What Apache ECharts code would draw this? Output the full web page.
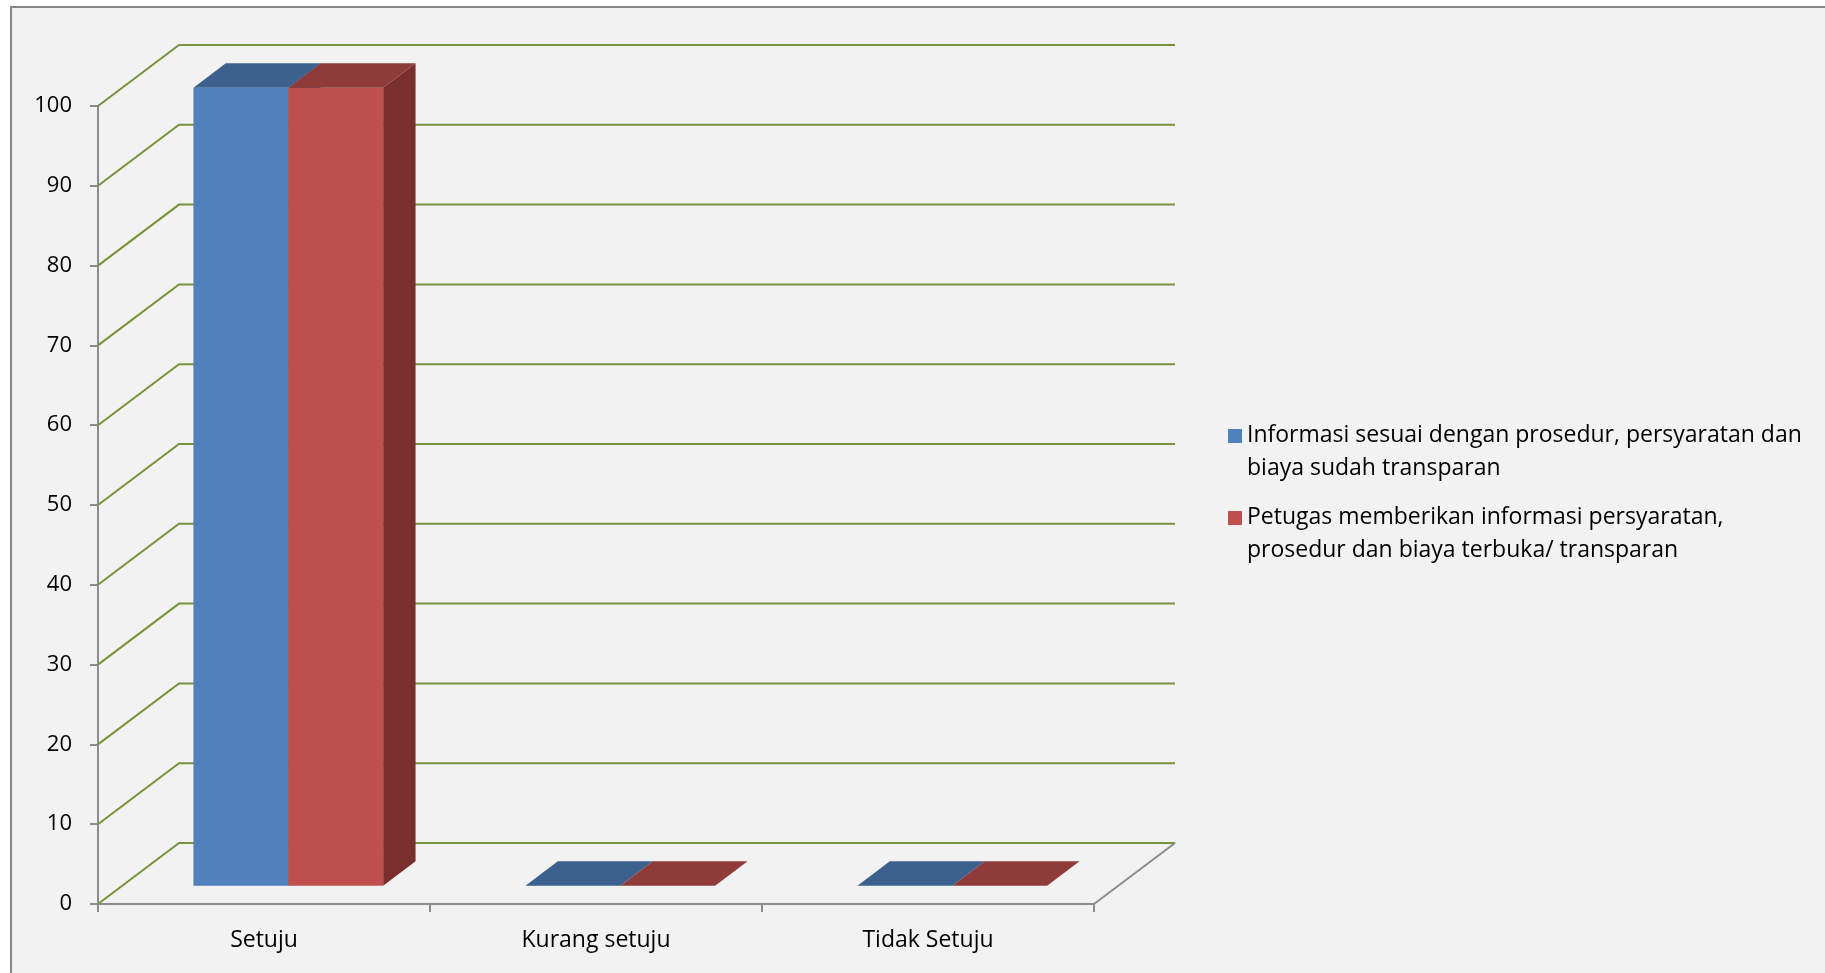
<!DOCTYPE html>
<html>
<head>
<meta charset="utf-8">
<title>Keterbukaan Informasi</title>
<script src="https://cdn.jsdelivr.net/npm/echarts@6/dist/echarts.min.js"></script>
<style>
  html, body { margin: 0; padding: 0; background: #ffffff; }
  #chart { width: 1825px; height: 973px; }
</style>
</head>
<body>
<div id="chart"></div>
<script>
// Response categories and the share (%) of respondents per statement
const categories = ['Setuju', 'Kurang setuju', 'Tidak Setuju'];
const seriesNames = [
  'Informasi sesuai dengan prosedur, persyaratan dan biaya sudah transparan',
  'Petugas memberikan informasi persyaratan, prosedur dan biaya terbuka/ transparan'
];
const legendLines = [
  ['Informasi sesuai dengan prosedur, persyaratan dan', 'biaya sudah transparan'],
  ['Petugas memberikan informasi persyaratan,', 'prosedur dan biaya terbuka/ transparan']
];
const valuesInformasi = [100, 0, 0];
const valuesPetugas = [100, 0, 0];
const yTicks = [0, 10, 20, 30, 40, 50, 60, 70, 80, 90, 100];

// Oblique projection used for the pseudo-3D walls and columns (pixels)
const DEPTH = [81, -61];
const BAR_FRONT = 0.30;   // fraction of wall depth where column faces start
const BAR_BACK = 0.70;    // fraction of wall depth where column backs end
const GAP_RATIO = 1.5;    // gap between clusters, as a multiple of one column

const palette = [
  { front: '#4F81BD', top: '#3D618F', side: '#345379' },
  { front: '#C0504D', top: '#8F3B39', side: '#7A2F2E' }
];
const WALL_GREEN = '#77933C';
const AXIS_GRAY = '#8C8C8C';

function wallItem(params, api) {
  const cs = params.coordSys;
  const v = api.value(1);
  const y = api.coord([0, v])[1];
  const xl = cs.x, xr = cs.x + cs.width;
  const children = [{
    type: 'polyline',
    shape: { points: [[xl, y], [xl + DEPTH[0], y + DEPTH[1]], [xr + DEPTH[0], y + DEPTH[1]]] },
    style: { stroke: WALL_GREEN, lineWidth: 2, fill: null }
  }];
  if (v === 0) {
    children.push({
      type: 'line',
      shape: { x1: xr, y1: y, x2: xr + DEPTH[0], y2: y + DEPTH[1] },
      style: { stroke: AXIS_GRAY, lineWidth: 2 }
    });
  }
  return { type: 'group', children: children };
}

function makeColumnRenderer(seriesIndex, count) {
  return function (params, api) {
    const idx = api.value(0);
    const v = api.value(1);
    const band = api.size([1, 0])[0];
    const w = band / (count + GAP_RATIO);
    const base = api.coord([idx, 0]);
    const top = api.coord([idx, v]);
    const fx = DEPTH[0] * BAR_FRONT, fy = DEPTH[1] * BAR_FRONT;
    const bx = DEPTH[0] * BAR_BACK, by = DEPTH[1] * BAR_BACK;
    const x0 = base[0] - (count * w) / 2 + seriesIndex * w;
    const x1 = x0 + w;
    const yb = base[1], yt = top[1];
    const c = palette[seriesIndex];
    const children = [];
    if (yb - yt > 0.5) {
      children.push({
        type: 'polygon',
        shape: { points: [[x1 + fx, yt + fy], [x1 + bx, yt + by], [x1 + bx, yb + by], [x1 + fx, yb + fy]] },
        style: { fill: c.side }
      });
      children.push({
        type: 'rect',
        shape: { x: x0 + fx, y: yt + fy, width: w, height: yb - yt },
        style: { fill: c.front }
      });
    }
    children.push({
      type: 'polygon',
      shape: { points: [[x0 + fx, yt + fy], [x1 + fx, yt + fy], [x1 + bx, yt + by], [x0 + bx, yt + by]] },
      style: { fill: c.top }
    });
    return { type: 'group', children: children };
  };
}

const valueSets = [valuesInformasi, valuesPetugas];
const columnSeries = valueSets.map(function (vals, si) {
  return {
    name: seriesNames[si],
    type: 'custom',
    renderItem: makeColumnRenderer(si, valueSets.length),
    itemStyle: { color: palette[si].front },
    encode: { x: 0, y: 1 },
    data: vals.map(function (v, i) { return [i, v]; }),
    z: 3,
    silent: true
  };
});

const chart = echarts.init(document.getElementById('chart'), null, { renderer: 'canvas' });
const FONT = '"Open Sans", "Noto Sans", sans-serif';

chart.setOption({
  backgroundColor: 'transparent',
  animation: false,
  graphic: [{
    type: 'rect',
    shape: { x: 11, y: 7, width: 1830, height: 980 },
    style: { fill: '#F2F2F2', stroke: '#878787', lineWidth: 2 },
    z: -100,
    silent: true
  }],
  grid: { left: 98, right: 731, top: 106, bottom: 69, containLabel: false },
  xAxis: {
    type: 'category',
    data: categories,
    boundaryGap: true,
    axisLine: { show: true, lineStyle: { color: AXIS_GRAY, width: 2 } },
    axisTick: { show: true, interval: 0, length: 8, lineStyle: { color: AXIS_GRAY, width: 2 } },
    axisLabel: { interval: 0, margin: 25, color: '#000000', fontSize: 23, fontFamily: FONT },
    splitLine: { show: false }
  },
  yAxis: {
    type: 'value',
    min: 0,
    max: 100,
    interval: 10,
    axisLine: { show: true, lineStyle: { color: AXIS_GRAY, width: 2 } },
    axisTick: { show: true, length: 8, lineStyle: { color: AXIS_GRAY, width: 2 } },
    axisLabel: { margin: 26, color: '#000000', fontSize: 22, fontFamily: FONT, padding: [5, 0, 0, 0] },
    splitLine: { show: false }
  },
  legend: {
    orient: 'vertical',
    left: 1223,
    top: 414,
    itemGap: 16,
    itemWidth: 14,
    itemHeight: 46,
    selectedMode: false,
    icon: 'path://M0,0h14v14h-14z M0,46h14',
    data: seriesNames,
    formatter: function (name) {
      return legendLines[seriesNames.indexOf(name)].join('\n');
    },
    textStyle: { color: '#000000', fontSize: 23, lineHeight: 33, fontFamily: FONT }
  },
  series: [{
    name: 'wall',
    type: 'custom',
    renderItem: wallItem,
    data: yTicks.map(function (v) { return [0, v]; }),
    encode: { x: 0, y: 1 },
    z: 1,
    silent: true
  }].concat(columnSeries)
});
</script>
</body>
</html>
